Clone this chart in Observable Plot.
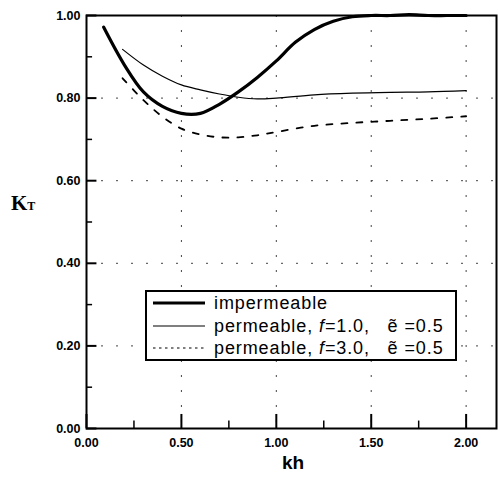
<!DOCTYPE html>
<html><head><meta charset="utf-8">
<script src="https://cdn.jsdelivr.net/npm/d3@7"></script>
<script src="https://cdn.jsdelivr.net/npm/@observablehq/plot@0.6"></script>
<style>
body{margin:0;background:#fff;}
#wrap{position:relative;width:498px;height:479px;overflow:hidden;}
#wrap > svg{position:absolute;left:0;top:0;}
.lab{position:absolute;color:#000;white-space:pre;}
#legend{position:absolute;left:145px;top:290px;width:312px;height:71px;box-sizing:border-box;border:2px solid #000;background:#fff;
  font-family:'Liberation Sans',Arial,sans-serif;font-size:18px;letter-spacing:0.9px;}
.row{position:absolute;left:0;height:22px;display:flex;align-items:center;white-space:pre;}
#wrap .row svg{position:static;margin-left:6px;margin-right:9px;}
</style></head><body>
<div id="wrap"></div>
<script>
// impermeable
const khImp = [0.09,0.2,0.3,0.4,0.5,0.6,0.7,0.8,0.9,1.0,1.1,1.2,1.3,1.4,1.5,1.6,1.7,1.8,1.9,2.0];
const ktImp = [0.972,0.88,0.815,0.78,0.763,0.763,0.785,0.815,0.85,0.89,0.935,0.966,0.986,0.997,1.0,1.0,1.002,1.0,1.0,1.0];
// permeable f=1.0
const khP1 = [0.19,0.3,0.4,0.5,0.6,0.7,0.8,0.9,1.0,1.2,1.4,1.6,1.8,2.0];
const ktP1 = [0.918,0.88,0.853,0.832,0.82,0.81,0.802,0.798,0.8,0.808,0.812,0.814,0.815,0.818];
// permeable f=3.0
const khP3 = [0.19,0.3,0.4,0.5,0.6,0.7,0.8,0.9,1.0,1.2,1.4,1.6,1.8,2.0];
const ktP3 = [0.848,0.795,0.755,0.726,0.712,0.705,0.705,0.71,0.718,0.733,0.74,0.745,0.75,0.756];

const xMajor = [0,0.5,1,1.5,2];
const xMinor = [0.25,0.75,1.25,1.75];
const yMajor = [0,0.2,0.4,0.6,0.8,1.0];
const yMinor = [0.1,0.3,0.5,0.7,0.9];
const xGrid = [0.5,1,1.5,2];
const yGrid = [0.2,0.4,0.6,0.8];

const legendNames = ["impermeable","permeable","permeable"];
const legendF = [null,"1.0","3.0"];
const legendE = [null,"0.5","0.5"];

const toRows = (kh, kt) => kh.map((k,i)=>({kh:k, kt:kt[i]}));
const imp = toRows(khImp, ktImp), p1 = toRows(khP1, ktP1), p3 = toRows(khP3, ktP3);

const styles = [
  {strokeWidth:3.2, strokeDasharray:null, sample:{w:3.2,d:null}},
  {strokeWidth:1.2, strokeDasharray:null, sample:{w:1.2,d:null}},
  {strokeWidth:1.8, strokeDasharray:"6,9", sample:{w:1.2,d:"2.5,3.5"}}
];

// inward tick lengths expressed in axis units
const xDom = [0, 2.16], yDom = [0, 1];
const xTickMajorLen = 0.034, xTickMinorLen = 0.018; // along y
const yTickMajorLen = 0.055, yTickMinorLen = 0.032; // along x

const chart = Plot.plot({
  width:498, height:479,
  marginLeft:86, marginRight:2, marginTop:15, marginBottom:51,
  x:{domain:xDom, ticks:xMajor, tickFormat:d3.format(".2f"), tickSize:0, tickPadding:10, label:null},
  y:{domain:yDom, ticks:yMajor, tickFormat:d3.format(".2f"), tickSize:0, tickPadding:6, label:null},
  style:{fontFamily:"'Liberation Sans',Arial,sans-serif", fontWeight:"bold", fontSize:"12.5px", background:"white", color:"#000"},
  marks:[
    Plot.ruleY(yGrid, {stroke:"#444", strokeWidth:1, strokeDasharray:"2,13"}),
    Plot.ruleX(xGrid, {stroke:"#444", strokeWidth:1, strokeDasharray:"2,13"}),
    Plot.ruleX(xMajor, {x:d=>d, y1:yDom[0], y2:xTickMajorLen, stroke:"#000", strokeWidth:2}),
    Plot.ruleX(xMinor, {x:d=>d, y1:yDom[0], y2:xTickMinorLen, stroke:"#000", strokeWidth:1.5}),
    Plot.ruleY(yMajor, {y:d=>d, x1:xDom[0], x2:yTickMajorLen, stroke:"#000", strokeWidth:2}),
    Plot.ruleY(yMinor, {y:d=>d, x1:xDom[0], x2:yTickMinorLen, stroke:"#000", strokeWidth:1.5}),
    Plot.line(p3, {x:"kh", y:"kt", stroke:"#000", strokeWidth:styles[2].strokeWidth, strokeDasharray:styles[2].strokeDasharray, curve:"catmull-rom"}),
    Plot.line(p1, {x:"kh", y:"kt", stroke:"#000", strokeWidth:styles[1].strokeWidth, curve:"catmull-rom"}),
    Plot.line(imp, {x:"kh", y:"kt", stroke:"#000", strokeWidth:styles[0].strokeWidth, curve:"catmull-rom"}),
    Plot.frame({stroke:"#000", strokeWidth:2})
  ]
});
const wrap = document.getElementById("wrap");
wrap.appendChild(chart);

// axis titles
const yl = document.createElement("div");
yl.className = "lab";
yl.style.cssText = "left:11px;top:191px;font-family:'Liberation Serif','Times New Roman',serif;font-weight:bold;font-size:21px;";
yl.innerHTML = 'K<span style="font-size:12px;">T</span>';
wrap.appendChild(yl);

const xl = document.createElement("div");
xl.className = "lab";
xl.style.cssText = "left:282px;top:452px;font-family:'Liberation Sans',Arial,sans-serif;font-weight:bold;font-size:19px;";
xl.textContent = "kh";
wrap.appendChild(xl);

// legend
const lg = document.createElement("div");
lg.id = "legend";
const rowTops = [0, 23, 45];
legendNames.forEach((name, i) => {
  const r = document.createElement("div");
  r.className = "row";
  r.style.top = rowTops[i] + "px";
  const s = styles[i].sample;
  let txt = name;
  if (legendF[i]) txt += ', <i>f</i>=' + legendF[i] + ',   \u1EBD =' + legendE[i];
  r.innerHTML = `<svg width="52" height="10"><line x1="0" x2="52" y1="5" y2="5" stroke="#000" stroke-width="${s.w}" ${s.d ? `stroke-dasharray="${s.d}"` : ""}/></svg><span>${txt}</span>`;
  lg.appendChild(r);
});
wrap.appendChild(lg);
</script>
</body></html>
